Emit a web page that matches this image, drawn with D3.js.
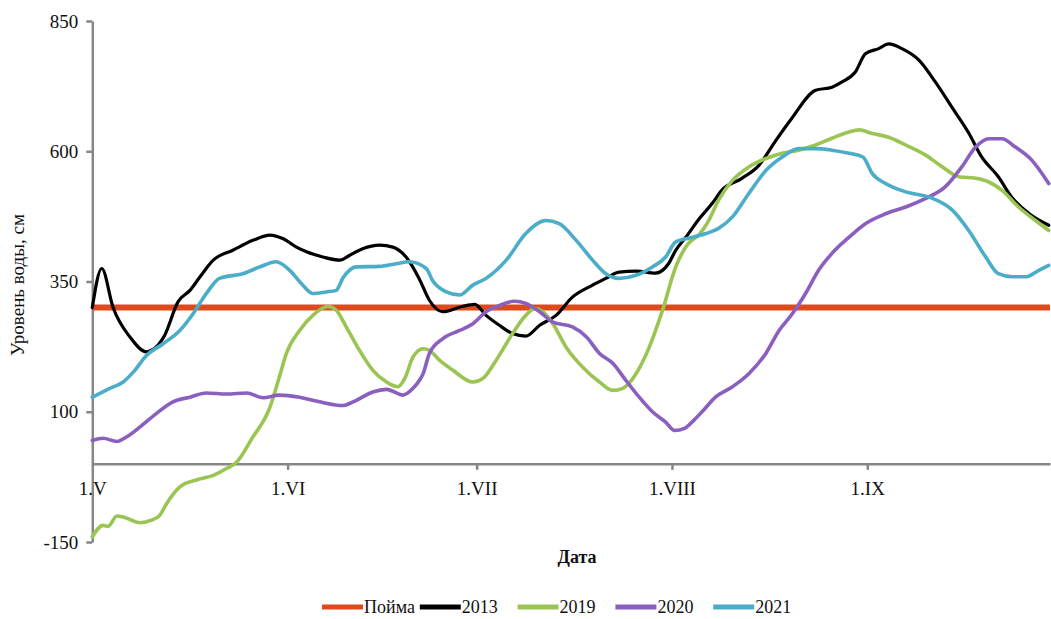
<!DOCTYPE html>
<html>
<head>
<meta charset="utf-8">
<script src="https://cdn.jsdelivr.net/npm/d3@7"></script>
<style>
  html, body { margin: 0; padding: 0; background: #ffffff; }
  svg { display: block; }
  text { font-family: "Liberation Serif", "Times New Roman", serif; fill: #111; }
</style>
</head>
<body>
<svg id="chart" width="1051" height="619"></svg>
<script>
// Water level (cm) through the season; x = days since 1 May
const monthTicks = ["1.V", "1.VI", "1.VII", "1.VIII", "1.IX"];
const monthStartDays = [0, 31, 61, 92, 123];
const yTicks = [-150, 100, 350, 600, 850];

const floodplainLevel = 300;   // Пойма

const days2013 = [0, 1.5, 3.3, 6.0, 8.6, 9.4, 11.5, 13.6, 15.5, 17.1, 19.2, 22.3, 25.5, 28.2, 30.3, 32.4, 34.0, 36.6, 39.3, 40.8, 42.9, 45.6, 47.7, 49.8, 51.9, 53.5, 55.6, 58.7, 60.7, 62.5, 64.6, 66.7, 68.8, 71.0, 73.6, 76.2, 79.4, 81.5, 83.6, 86.3, 89.4, 91.5, 92.6, 94.2, 96.3, 98.4, 99.9, 103.1, 105.8, 108.5, 111.0, 114.8, 117.4, 119.0, 121.1, 122.7, 124.8, 126.4, 128.5, 131.2, 133.8, 136.4, 139.1, 141.1, 143.8, 145.9, 148.6, 151.8];
const level2013 = [300, 375, 300, 243, 215, 218, 247, 311, 333, 359, 391, 410, 429, 439, 432, 416, 407, 397, 391, 400, 413, 420, 416, 397, 355, 314, 292, 302, 306, 285, 266, 250, 245, 266, 285, 320, 343, 356, 368, 370, 366, 385, 410, 435, 470, 500, 525, 548, 573, 621, 663, 717, 723, 733, 752, 787, 797, 806, 797, 775, 733, 685, 635, 590, 551, 512, 481, 458];

const days2019 = [0, 1.7, 2.5, 3.9, 4.9, 7.6, 9.4, 10.7, 11.8, 13.9, 16.5, 19.2, 21.3, 22.9, 25.3, 28.2, 29.7, 30.8, 32.9, 35.0, 37.4, 38.7, 40.3, 42.4, 44.5, 46.7, 48.5, 49.6, 50.9, 52.5, 53.5, 55.1, 57.2, 60.4, 62.0, 64.1, 66.7, 68.8, 70.2, 71.5, 73.1, 75.2, 77.8, 80.5, 82.6, 84.2, 86.3, 88.4, 90.5, 92.6, 94.6, 96.3, 97.7, 99.4, 101.6, 104.2, 106.9, 109.5, 112.1, 114.8, 117.4, 120.1, 121.7, 123.8, 126.4, 129.1, 132.2, 134.9, 137.5, 140.2, 142.3, 144.4, 147.0, 149.7, 151.8];
const level2019 = [-140, -118, -120, -100, -102, -113, -108, -99, -76, -44, -31, -22, -9, 3, 48, 109, 167, 212, 256, 285, 302, 295, 263, 218, 180, 157, 148, 164, 205, 221, 218, 199, 180, 157, 164, 199, 250, 285, 298, 292, 269, 224, 186, 157, 141, 145, 173, 224, 295, 378, 423, 440, 464, 506, 544, 570, 586, 596, 602, 612, 625, 637, 641, 634, 627, 612, 593, 570, 551, 548, 541, 525, 493, 467, 448];

const days2020 = [0, 1.7, 3.9, 5.5, 7.6, 10.2, 12.8, 15.5, 18.1, 21.3, 24.5, 27.1, 29.7, 32.9, 36.1, 39.8, 41.9, 44.5, 46.7, 49.3, 50.9, 51.9, 52.5, 53.5, 55.6, 58.3, 60.4, 62.5, 64.6, 67.0, 68.8, 71.0, 73.1, 76.2, 78.4, 80.5, 82.6, 84.7, 86.8, 88.9, 91.0, 92.4, 94.0, 95.5, 97.0, 98.9, 101.6, 104.2, 106.9, 109.0, 111.1, 113.2, 115.3, 117.4, 120.1, 122.7, 125.9, 129.1, 132.2, 135.4, 138.0, 140.2, 142.3, 144.4, 146.5, 149.1, 151.8];
const level2020 = [45, 49, 43, 52, 71, 97, 119, 128, 136, 134, 136, 127, 132, 128, 119, 112, 122, 138, 143, 132, 145, 160, 173, 212, 240, 256, 269, 292, 304, 312, 308, 292, 272, 263, 244, 212, 193, 160, 128, 100, 80, 64, 68, 84, 103, 128, 148, 173, 212, 256, 288, 327, 372, 404, 435, 461, 480, 493, 509, 532, 570, 608, 624, 624, 608, 583, 538];

const days2021 = [0, 2.8, 4.9, 6.5, 8.6, 11.3, 13.9, 16.0, 18.1, 20.2, 23.9, 26.6, 29.2, 31.3, 33.4, 35.0, 37.1, 38.7, 39.8, 41.9, 45.6, 48.2, 50.3, 53.0, 54.0, 56.2, 58.3, 60.4, 62.5, 65.7, 68.8, 72.0, 74.1, 76.8, 79.4, 81.5, 83.6, 86.3, 88.9, 91.0, 92.6, 95.3, 97.4, 99.4, 101.6, 104.2, 106.9, 109.5, 112.1, 114.8, 117.4, 120.1, 122.3, 123.8, 125.9, 129.1, 132.8, 136.5, 139.1, 141.8, 143.8, 146.0, 148.2, 150.3, 151.8];
const level2021 = [128, 145, 157, 176, 208, 231, 256, 288, 327, 356, 365, 378, 388, 372, 343, 327, 330, 333, 357, 378, 379, 384, 388, 375, 352, 330, 324, 343, 356, 391, 442, 467, 461, 429, 391, 365, 356, 362, 378, 397, 426, 435, 442, 452, 474, 519, 563, 589, 605, 605, 602, 596, 589, 557, 538, 522, 512, 487, 448, 397, 365, 359, 359, 372, 381];

const seasonLastDay = 152;   // 30 September

const seriesNames = ["2013", "2019", "2020", "2021"];
const seriesColors = ["#000000", "#9bc553", "#8b5fbf", "#4badc8"];
const floodplainName = "Пойма";
const floodplainColor = "#dc4a1e";

const seriesData = [
  d3.zip(days2013, level2013),
  d3.zip(days2019, level2019),
  d3.zip(days2020, level2020),
  d3.zip(days2021, level2021)
];

const svg = d3.select("#chart");
const axisColor = "#878787";

const x = d3.scaleLinear().domain([0, seasonLastDay]).range([92.3, 1050]);
const y = d3.scaleLinear().domain([-150, 850]).range([542, 21]);

// Y axis: vertical line at the left edge of the plot
const yAxis = d3.axisLeft(y).tickValues(yTicks).tickFormat(d => String(d))
  .tickSize(6).tickPadding(8).tickSizeOuter(0);
const gy = svg.append("g").attr("transform", `translate(${x(0)},0)`).call(yAxis);
gy.select(".domain").attr("stroke", axisColor).attr("stroke-width", 2.5);
gy.selectAll(".tick line").attr("stroke", axisColor).attr("stroke-width", 2.5);
gy.selectAll(".tick text").attr("font-size", 19).attr("fill", "#111")
  .attr("font-family", '"Liberation Serif", serif');

// X axis crosses at zero
const xAxis = d3.axisBottom(x).tickValues(monthStartDays)
  .tickFormat((d, i) => monthTicks[i]).tickSize(6).tickPadding(12).tickSizeOuter(0);
const gx = svg.append("g").attr("transform", `translate(0,${y(0)})`).call(xAxis);
gx.select(".domain").attr("stroke", axisColor).attr("stroke-width", 2.5);
gx.selectAll(".tick line").attr("stroke", axisColor).attr("stroke-width", 2.5);
gx.selectAll(".tick").filter(d => d === 0).select("line").remove();
gx.selectAll(".tick text").attr("font-size", 19).attr("fill", "#111")
  .attr("font-family", '"Liberation Serif", serif');

// Floodplain level
const line = d3.line().x(d => x(d[0])).y(d => y(d[1])).curve(d3.curveMonotoneX);
svg.append("path")
  .datum([[0, floodplainLevel], [seasonLastDay, floodplainLevel]])
  .attr("d", line).attr("fill", "none")
  .attr("stroke", floodplainColor).attr("stroke-width", 6);

// Yearly water level series
seriesData.forEach((pts, i) => {
  svg.append("path").datum(pts)
    .attr("d", line).attr("fill", "none")
    .attr("stroke", seriesColors[i])
    .attr("stroke-width", i === 0 ? 3.2 : 3.6)
    .attr("stroke-linejoin", "round").attr("stroke-linecap", "round");
});

// Axis titles
svg.append("text")
  .attr("transform", `translate(24,285) rotate(-90)`)
  .attr("text-anchor", "middle").attr("font-size", 19)
  .text("Уровень воды, см");

svg.append("text")
  .attr("x", 577).attr("y", 563).attr("text-anchor", "middle")
  .attr("font-size", 18).attr("font-weight", "bold")
  .text("Дата");

// Legend
const legendNames = [floodplainName].concat(seriesNames);
const legendColors = [floodplainColor].concat(seriesColors);
const legend = svg.append("g").attr("transform", "translate(322,607)");
legendNames.forEach((name, i) => {
  const g = legend.append("g").attr("transform", `translate(${i * 97.8},0)`);
  g.append("line").attr("x1", 0).attr("x2", 41).attr("y1", 0).attr("y2", 0)
    .attr("stroke", legendColors[i]).attr("stroke-width", 5);
  g.append("text").attr("x", 42).attr("y", 6).attr("font-size", 18).text(name);
});
</script>
</body>
</html>
